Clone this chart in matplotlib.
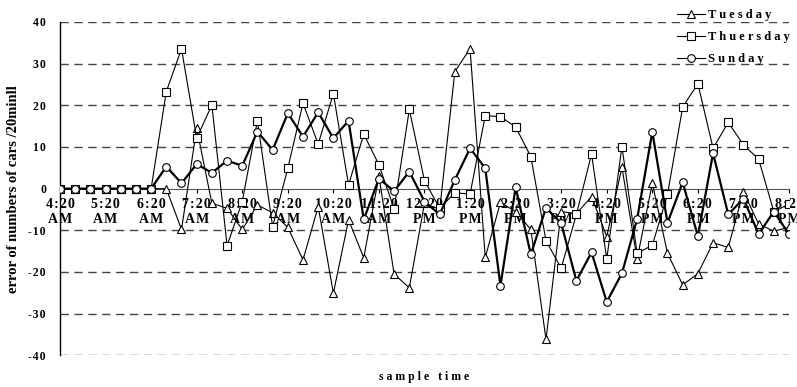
import matplotlib
matplotlib.use("Agg")
import matplotlib.pyplot as plt
import numpy as np

plt.rcParams['font.family'] = ['Liberation Serif', 'DejaVu Serif']
plt.rcParams['font.weight'] = 'bold'
plt.rcParams['axes.unicode_minus'] = False

# 20-minute samples from 4:20 AM to 8:20 PM
tuesday = [0, 0, 0, 0, 0, 0, 0, 0, -9.8, 14.5, -3.5, -4.7, -9.8, -3.9, -5.8,
           -9.3, -17.1, -4.3, -25.1, -7.5, -16.6, 3, -20.5, -23.8, -3.5, -5,
           28.1, 33.6, -16.5, -3.3, -5.5, -9.8, -36.2, -5.5, -6, -1.9, -11.5,
           5.1, -16.9, 1.3, -15.5, -23.1, -20.4, -13, -14.1, -0.7, -8.5,
           -10.2, -9.3]
thuersday = [0, 0, 0, 0, 0, 0, 0, 23.3, 33.6, 12.1, 20.1, -13.7, -3.1, 16.3,
             -9.1, 4.9, 20.5, 10.7, 22.8, 0.9, 13.1, 5.7, -4.8, 19.0, 1.9,
             -4.7, -1.0, -1.3, 17.5, 17.3, 14.8, 7.7, -12.5, -19.1, -6.2, 8.3,
             -16.9, 10.1, -15.5, -13.6, -1.4, 19.6, 25.2, 9.7, 15.9, 10.5,
             7.1, -5.5, -3.7]
sunday = [0, 0, 0, 0, 0, 0, 0, 5.3, 1.3, 5.9, 3.8, 6.7, 5.5, 13.7, 9.3, 18.1,
          12.5, 18.3, 12.1, 16.3, -7.4, 2.4, -0.6, 4.1, -3.1, -6.2, 2.1, 9.7,
          4.9, -23.3, 0.3, -15.8, -4.6, -8.3, -22.1, -15.3, -27.2, -20.3,
          -7.3, 13.6, -8.2, 1.5, -11.4, 8.5, -6.2, -2.4, -10.9, -5.5, -10.9]

hour_labels = ["4:20\nAM", "5:20\nAM", "6:20\nAM", "7:20\nAM", "8:20\nAM",
               "9:20\nAM", "10:20\nAM", "11:20\nAM", "12:20\nPM", "1:20\nPM",
               "2:20\nPM", "3:20\nPM", "4:20\nPM", "5:20\nPM", "6:20\nPM",
               "7:20\nPM", "8:20\nPM"]


def spaced(s, sep='\u200a'):
    # loose letter spacing like the original
    return '\n'.join(sep.join(line) for line in s.split('\n'))


x = np.arange(len(sunday))

fig = plt.figure(figsize=(7.97, 3.87), dpi=100)
ax = fig.add_axes([60 / 797, 31.7 / 387, 729 / 797, 333.3 / 387])

ax.plot(x, tuesday, color='black', lw=0.8, marker='^', ms=6,
        mfc='white', mec='black', mew=0.8, label='T u e s d a y', zorder=3)
ax.plot(x, thuersday, color='black', lw=0.8, marker='s', ms=5.5,
        mfc='white', mec='black', mew=0.8, label='T h u e r s d a y', zorder=4)
ax.plot(x, sunday, color='black', lw=1.6, marker='o', ms=5.5,
        mfc='white', mec='black', mew=0.8, label='S u n d a y', zorder=5)

ax.set_xlim(0, 48)
ax.set_ylim(-40, 40)
ax.set_yticks(range(-40, 41, 10))
ax.set_yticklabels([spaced(str(v)) for v in range(-40, 41, 10)])
ax.set_xticks(range(0, 49, 3))
ax.set_xticklabels([spaced(s) for s in hour_labels], fontsize=8.5,
                   fontweight='bold')
ax.tick_params(axis='x', direction='out', length=3, width=0.8, pad=4)
ax.tick_params(axis='y', length=0, pad=10, labelsize=8.5)

for v in range(-40, 41, 10):
    if v != 0:
        ax.axhline(v, color='#444444', lw=1, dashes=(6, 4), zorder=1)

ax.spines['top'].set_visible(False)
ax.spines['right'].set_visible(False)
ax.spines['bottom'].set_position(('data', 0))
ax.spines['bottom'].set_color('#555555')
ax.spines['left'].set_linewidth(1)

ax.set_ylabel('error of numbers of cars /20minll', fontsize=10.5,
              fontweight='bold', labelpad=6)
fig.text(424 / 797, 1 - 377 / 387, 's a m p l e   t i m e', ha='center',
         va='center', fontsize=8.5, fontweight='bold')

leg = ax.legend(loc='upper left', bbox_to_anchor=(672 / 797, 1 - 4 / 387),
                bbox_transform=fig.transFigure, frameon=False, fontsize=9,
                handlelength=2.2, handletextpad=0.3, labelspacing=0.8,
                borderaxespad=0)
for h in leg.legend_handles:
    h.set_linewidth(0.8)

fig.savefig('out.png', dpi=100)
